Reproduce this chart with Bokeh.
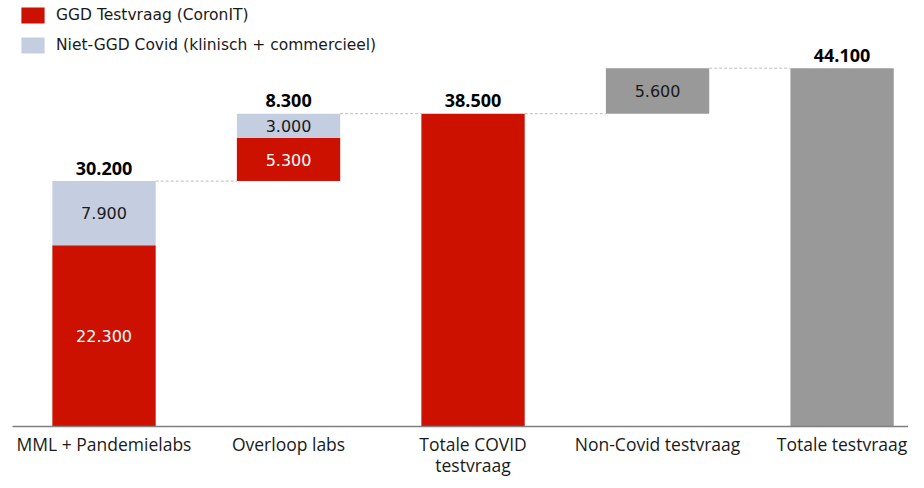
from bokeh.plotting import figure
from bokeh.models import Range1d, FixedTicker, Legend, LegendItem, ColumnDataSource
from bokeh.embed import file_html
from bokeh.resources import INLINE
from bokeh.core.properties import value

# ---- data ----
categories = ["MML + Pandemielabs", "Overloop labs", "Totale COVID\ntestvraag",
              "Non-Covid testvraag", "Totale testvraag"]
ggd = [22300, 5300, 38500, 0, 0]          # GGD Testvraag (CoronIT)
niet_ggd = [7900, 3000, 0, 0, 0]          # Niet-GGD Covid (klinisch + commercieel)
non_covid = [0, 0, 0, 5600, 44100]        # grey bars
floating = [False, True, False, True, False]   # waterfall step bars
show_total = [True, True, True, False, True]
show_parts = [True, True, False, True, False]

RED = "#CC1100"
BLUE = "#C5CEE0"
GREY = "#999999"
TXT = "#1a1a1a"

def fmt(v):
    return f"{v:,}".replace(",", ".")

n = len(categories)
xs = list(range(n))
base, top = [], []
prev = 0
for i in range(n):
    b = prev if floating[i] else 0
    t = b + ggd[i] + niet_ggd[i] + non_covid[i]
    base.append(b)
    top.append(t)
    prev = t

r_bot = base
r_top = [base[i] + ggd[i] for i in range(n)]
b_bot = r_top
b_top = [r_top[i] + niet_ggd[i] for i in range(n)]
g_bot = b_top
g_top = [b_top[i] + non_covid[i] for i in range(n)]

FIG_H = 480
FRAME_H = 428
p = figure(width=908, height=FIG_H, output_backend="svg", toolbar_location=None,
           x_range=Range1d(-0.496, 4.360), y_range=Range1d(0, 52430),
           y_axis_location=None, min_border_left=12, min_border_right=0,
           min_border_top=0, min_border_bottom=FIG_H - FRAME_H)
p.outline_line_color = None
p.xgrid.visible = False
p.ygrid.visible = False
p.background_fill_color = "white"

W = 0.56
src = ColumnDataSource(dict(x=xs, rb=r_bot, rt=r_top, bb=b_bot, bt=b_top, gb=g_bot, gt=g_top))
rr = p.vbar(x="x", bottom="rb", top="rt", width=W, source=src, fill_color=RED, line_color=None)
rb = p.vbar(x="x", bottom="bb", top="bt", width=W, source=src, fill_color=BLUE, line_color=None)
p.vbar(x="x", bottom="gb", top="gt", width=W, source=src, fill_color=GREY, line_color=None)

# connectors
p.segment(x0=[i + W / 2 for i in range(n - 1)], x1=[i + 1 - W / 2 for i in range(n - 1)],
          y0=top[:-1], y1=top[:-1], line_color="#bdbdbd", line_width=1, line_dash="3 2")

# inside labels
lx, ly, lt, lc = [], [], [], []
for i in range(n):
    if not show_parts[i]:
        continue
    for bot, val, col in ((r_bot[i], ggd[i], "white"), (b_bot[i], niet_ggd[i], TXT),
                          (g_bot[i], non_covid[i], TXT)):
        if val > 0:
            lx.append(i); ly.append(bot + val / 2); lt.append(fmt(val)); lc.append(col)
p.text(x=lx, y=ly, text=lt, text_color=lc, text_align="center", text_baseline="middle",
       text_font=value("DejaVu Sans"), text_font_size="16px")

# totals
tx = [i for i in range(n) if show_total[i]]
ty = [top[i] for i in tx]
tt = [fmt(top[i] - base[i]) for i in tx]
p.text(x=tx, y=ty, text=tt, text_color="black", text_align="center", text_baseline="alphabetic",
       y_offset=-13, text_font=value("Open Sans"), text_font_size="18px", text_font_style="bold")

ax = p.xaxis[0]
ax.ticker = FixedTicker(ticks=xs)
ax.major_label_overrides = {i: categories[i] for i in xs}
ax.major_tick_out = 0
ax.major_tick_in = 0
ax.minor_tick_out = 0
ax.minor_tick_in = 0
ax.major_tick_line_color = None
ax.minor_tick_line_color = None
ax.axis_line_color = "#7f7f7f"
ax.axis_line_width = 1.5
ax.major_label_text_font = "Open Sans"
ax.major_label_text_font_size = "17.5px"
ax.major_label_text_color = TXT
ax.major_label_text_line_height = 0.9
ax.major_label_standoff = 5

legend = Legend(items=[LegendItem(label="GGD Testvraag (CoronIT)", renderers=[rr]),
                       LegendItem(label="Niet-GGD Covid (klinisch + commercieel)", renderers=[rb])],
                location=(6, FRAME_H - 7 - 50), orientation="vertical")
legend.glyph_width = 29
legend.glyph_height = 20
legend.label_height = 20
legend.spacing = 10
legend.padding = 0
legend.margin = 0
legend.label_standoff = 9
legend.label_text_font = "DejaVu Sans"
legend.label_text_font_size = "15.5px"
legend.label_text_color = TXT
legend.border_line_color = None
legend.background_fill_alpha = 0
p.add_layout(legend)

open("out.html", "w").write(file_html(p, INLINE))
